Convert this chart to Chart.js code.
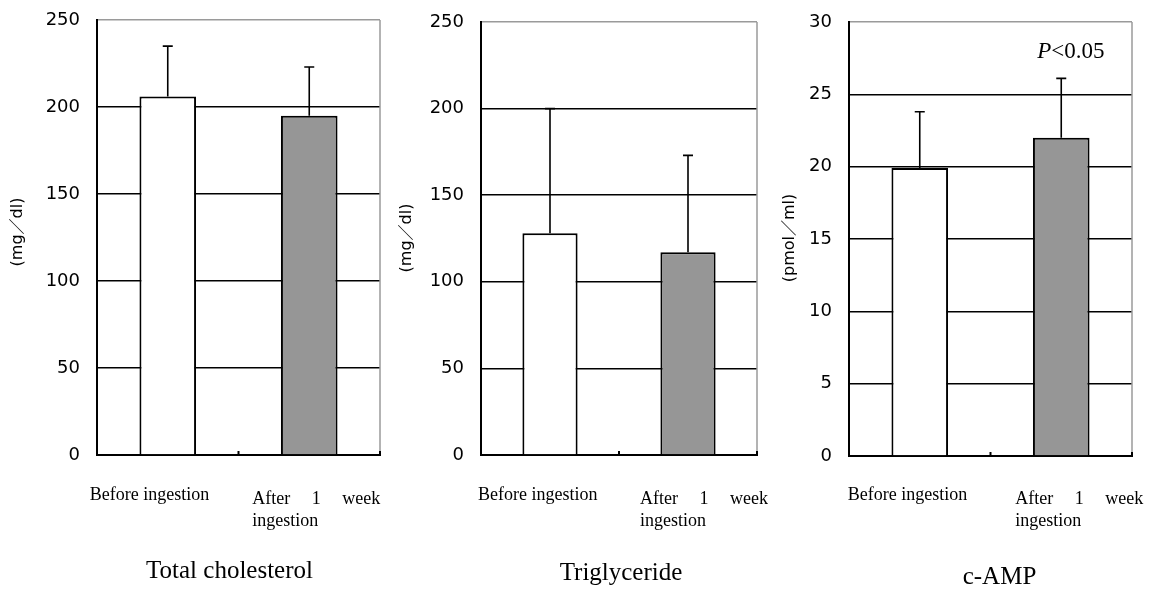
<!DOCTYPE html>
<html>
<head>
<meta charset="utf-8">
<script src="https://cdn.jsdelivr.net/npm/chart.js@4.4.1/dist/chart.umd.min.js"></script>
<style>
  body { margin: 0; background: #fff; }
  #wrap { position: relative; width: 1150px; height: 590px; }
  #wrap canvas { position: absolute; left: 0; top: 0; }
</style>
</head>
<body>
<div id="wrap">
  <canvas id="c1" width="1150" height="590"></canvas>
  <canvas id="c2" width="1150" height="590"></canvas>
  <canvas id="c3" width="1150" height="590"></canvas>
</div>
<script>
// data (mean + upward SD bar)
const categories = [['Before ingestion'], ['After 1 week', 'ingestion']];
const cholesterolMean = [206, 195];
const cholesterolSD = [29, 28];
const triglycerideMean = [128, 117];
const triglycerideSD = [72, 56];
const campMean = [19.9, 22.0];
const campSD = [3.9, 4.1];
const panelTitles = ['Total cholesterol', 'Triglyceride', 'c-AMP'];
const unitLabels = ['(mg／dl)', '(mg／dl)', '(pmol／ml)'];
const yMaxes = [250, 250, 30];
const ySteps = [50, 50, 5];
const pValueText = ['P', '<0.05'];

// where each plot box sits on the page
const boxes = [
  { left: 97, right: 380, top: 20, bottom: 455, unitX: 18, unitY: 232,
    beforeDx: -78, afterDx: -57, titleDx: -9, titleY: 578 },
  { left: 481, right: 757, top: 22, bottom: 455, unitX: 407, unitY: 238,
    beforeDx: -72, afterDx: -48, titleDx: 2, titleY: 580 },
  { left: 849, right: 1132, top: 22, bottom: 456, unitX: 790, unitY: 238,
    beforeDx: -72, afterDx: -46, titleDx: 9, titleY: 584 }
];

const W = 1150, H = 590, AXIS_W = 60;
const serif = '"Liberation Serif", "Times New Roman", serif';

const decor = {
  id: 'decor',
  afterDatasetsDraw(chart, args, opts) {
    const ctx = chart.ctx;
    const ys = chart.scales.y;
    const area = chart.chartArea;
    const meta = chart.getDatasetMeta(0);
    ctx.save();
    // error bars, upward only
    ctx.strokeStyle = '#000';
    ctx.lineWidth = 1.6;
    meta.data.forEach((bar, i) => {
      const v = chart.data.datasets[0].data[i];
      const yTop = ys.getPixelForValue(v + opts.sd[i]);
      const yBar = ys.getPixelForValue(v);
      ctx.beginPath();
      ctx.moveTo(bar.x, yBar);
      ctx.lineTo(bar.x, yTop);
      ctx.moveTo(bar.x - 5, yTop);
      ctx.lineTo(bar.x + 5, yTop);
      ctx.stroke();
    });
    // grey right edge of plot box
    ctx.strokeStyle = '#9a9a9a';
    ctx.lineWidth = 1.5;
    ctx.beginPath();
    ctx.moveTo(area.right, area.top);
    ctx.lineTo(area.right, area.bottom);
    ctx.stroke();
    // little inside ticks between categories
    ctx.strokeStyle = '#000';
    ctx.lineWidth = 2;
    const n = chart.data.labels.length;
    const step = (area.right - area.left) / n;
    for (let k = 1; k <= n; k++) {
      const x = area.left + step * k;
      ctx.beginPath();
      ctx.moveTo(x, area.bottom);
      ctx.lineTo(x, area.bottom - 4);
      ctx.stroke();
    }
    ctx.restore();
  },
  afterDraw(chart, args, opts) {
    const ctx = chart.ctx;
    const xs = chart.scales.x;
    const area = chart.chartArea;
    const box = opts.box;
    ctx.save();
    ctx.fillStyle = '#000';
    ctx.textBaseline = 'alphabetic';
    ctx.textAlign = 'left';
    ctx.font = '18px ' + serif;
    // category labels
    chart.data.labels.forEach((lines, i) => {
      const cx = xs.getPixelForValue(i);
      if (lines.length === 1) {
        ctx.fillText(lines[0], cx + box.beforeDx, 500);
      } else {
        const x0 = cx + box.afterDx, width = 128;
        lines.forEach((line, j) => {
          const y = 504 + j * 22;
          const words = line.split(' ');
          if (j < lines.length - 1 && words.length > 1) {
            const used = words.reduce((s, w) => s + ctx.measureText(w).width, 0);
            const gap = (width - used) / (words.length - 1);
            let x = x0;
            words.forEach(w => { ctx.fillText(w, x, y); x += ctx.measureText(w).width + gap; });
          } else {
            ctx.fillText(line, x0, y);
          }
        });
      }
    });
    // panel title
    ctx.font = '25px ' + serif;
    ctx.textAlign = 'center';
    ctx.fillText(opts.title, (area.left + area.right) / 2 + box.titleDx, box.titleY);
    // unit label, rotated
    ctx.save();
    ctx.translate(box.unitX, box.unitY);
    ctx.rotate(-Math.PI / 2);
    ctx.font = '16px "DejaVu Sans", "Noto Sans CJK JP", sans-serif';
    ctx.textBaseline = 'middle';
    ctx.fillText(opts.unit, 0, 0);
    ctx.restore();
    // significance note
    if (opts.pText) {
      const cx = xs.getPixelForValue(1);
      ctx.textAlign = 'left';
      ctx.font = 'italic 23px ' + serif;
      const x0 = cx - 24, y0 = area.top + 36;
      ctx.fillText(opts.pText[0], x0, y0);
      const pw = ctx.measureText(opts.pText[0]).width;
      ctx.font = '23px ' + serif;
      ctx.fillText(opts.pText[1], x0 + pw, y0);
    }
    ctx.restore();
  }
};

function makePanel(id, idx, means, sds, pText) {
  const box = boxes[idx];
  const max = yMaxes[idx];
  new Chart(document.getElementById(id), {
    type: 'bar',
    data: {
      labels: categories,
      datasets: [{
        data: means,
        backgroundColor: ['#ffffff', '#969696'],
        borderColor: '#000',
        borderWidth: 2,
        barPercentage: 0.4,
        categoryPercentage: 1
      }]
    },
    options: {
      responsive: false,
      animation: false,
      devicePixelRatio: 1,
      layout: { padding: { left: box.left - AXIS_W, right: W - box.right, top: box.top, bottom: 0 } },
      plugins: {
        legend: { display: false },
        tooltip: { enabled: false },
        decor: { sd: sds, title: panelTitles[idx], unit: unitLabels[idx], box: box, pText: pText }
      },
      scales: {
        x: {
          grid: { display: false },
          border: { color: '#000', width: 2 },
          ticks: { display: false },
          afterFit: s => { s.height = H - box.bottom; s.paddingLeft = 0; s.paddingRight = 0; }
        },
        y: {
          min: 0,
          max: max,
          ticks: {
            stepSize: ySteps[idx],
            color: '#000',
            padding: 17,
            font: { family: '"DejaVu Sans", sans-serif', size: 18 }
          },
          grid: {
            drawTicks: false,
            lineWidth: 1.5,
            color: c => (c.tick && c.tick.value === max ? '#9a9a9a' : '#000')
          },
          border: { color: '#000', width: 2 },
          afterFit: s => { s.width = AXIS_W; s.paddingTop = 0; s.paddingBottom = 0; }
        }
      }
    },
    plugins: [decor]
  });
}

makePanel('c1', 0, cholesterolMean, cholesterolSD, null);
makePanel('c2', 1, triglycerideMean, triglycerideSD, null);
makePanel('c3', 2, campMean, campSD, pValueText);
</script>
</body>
</html>
